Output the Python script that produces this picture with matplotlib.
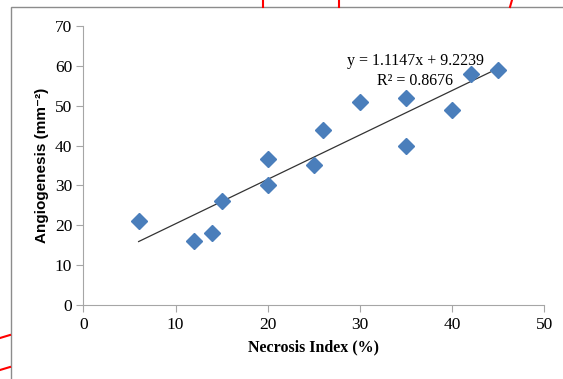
import matplotlib
matplotlib.use('Agg')
import matplotlib.pyplot as plt
from matplotlib.patches import Rectangle
from matplotlib.lines import Line2D

# data
necrosis = [6, 12, 14, 15, 20, 20, 25, 26, 30, 35, 35, 40, 42, 45]
angio = [21, 16, 18, 26, 36.7, 30, 35, 44, 51, 52, 39.8, 49, 58, 59]
slope = 1.1147
intercept = 9.2239
r2 = 0.8676
xticks = [0, 10, 20, 30, 40, 50]
yticks = [0, 10, 20, 30, 40, 50, 60, 70]

serif = ['Liberation Serif', 'DejaVu Serif']
sans = ['Liberation Sans', 'DejaVu Sans']

fig = plt.figure(figsize=(5.63, 3.79), dpi=100)
ax = fig.add_axes([83.3 / 563, 0.1953, 461 / 563, 0.7361])

ax.plot(necrosis, angio, 'D', color='#4a7ebb', markersize=8.5, zorder=3)

# linear trendline
x0, x1 = min(necrosis), max(necrosis)
ax.plot([x0, x1], [slope * x0 + intercept, slope * x1 + intercept],
        color='#333333', lw=0.9, zorder=2)

ax.text(36.0, 60.2, 'y = 1.1147x + 9.2239', family=serif, fontsize=11.5,
        ha='center', va='baseline')
ax.text(36.0, 55.2, 'R² = %.4f' % r2, family=serif, fontsize=11.5,
        ha='center', va='baseline')

ax.set_xlim(0, 50)
ax.set_ylim(0, 70)
ax.set_xticks(xticks)
ax.set_yticks(yticks)
for s in ['top', 'right']:
    ax.spines[s].set_visible(False)
for s in ['left', 'bottom']:
    ax.spines[s].set_color('#a6a6a6')
ax.tick_params(direction='out', length=5, color='#a6a6a6', labelsize=12.5)
ax.tick_params(axis='y', pad=3)
for lab in ax.get_xticklabels() + ax.get_yticklabels():
    lab.set_family(serif)

ax.set_xlabel('Necrosis Index (%)', family=serif, fontweight='bold',
              fontsize=11.5, labelpad=5)
ax.set_ylabel('Angiogenesis (mm⁻²)', family=sans, fontsize=11,
              fontweight='bold', labelpad=4)

# outer chart frame
fig.patches.append(Rectangle((10.5 / 563, -0.01), 1.0, 1 - 7 / 379 + 0.01,
                             transform=fig.transFigure, fill=False,
                             edgecolor='#8c8c8c', lw=1))

# red marks at the edges of the picture
for x in [263, 339]:
    fig.lines.append(Line2D([x / 563, x / 563], [1, 1 - 7 / 379],
                            transform=fig.transFigure, color='red', lw=1.5))
fig.lines.append(Line2D([512 / 563, 510 / 563], [1, 1 - 7 / 379],
                        transform=fig.transFigure, color='red', lw=1.5))
for y in [335, 367]:
    fig.lines.append(Line2D([0, 10 / 563], [1 - (y + 3) / 379, 1 - y / 379],
                            transform=fig.transFigure, color='red', lw=1.5))

fig.savefig('out.png', dpi=100)
